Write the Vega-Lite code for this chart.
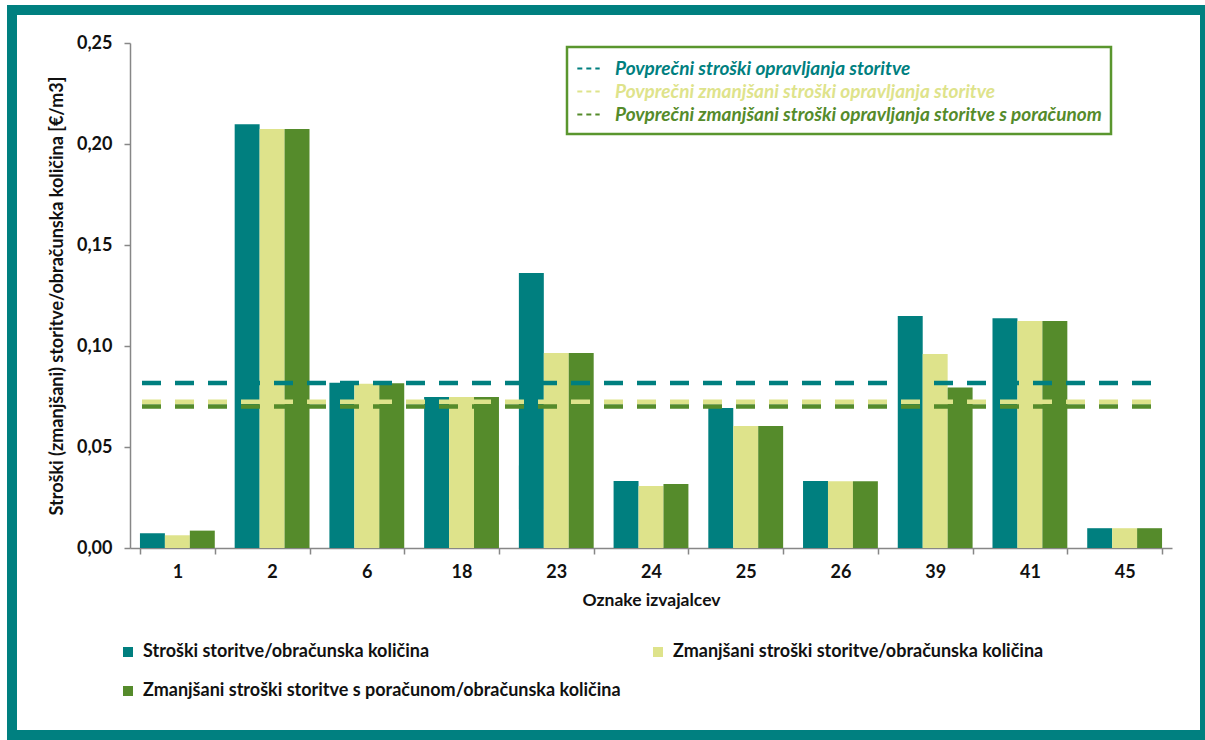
{
  "$schema": "https://vega.github.io/schema/vega-lite/v6.json",
  "width": 1193,
  "height": 725,
  "autosize": {"type": "none"},
  "padding": {"left": 12, "top": 10, "right": 0, "bottom": 5},
  "background": "white",
  "config": {
    "font": "Lato",
    "view": {"stroke": "#008080", "strokeWidth": 10, "fill": "white"},
    "axis": {"grid": false, "domainColor": "#878787", "domainWidth": 1.5, "tickColor": "#878787", "tickWidth": 1.5, "labelFont": "Lato", "labelFontWeight": "bold", "labelColor": "#111111", "titleFont": "Lato", "titleFontWeight": "bold", "titleColor": "#111111"}
  },
  "datasets": {
    "bars": [
      {"izv": "1", "serija": "Stroški storitve/obračunska količina", "v": 0.0073},
      {"izv": "1", "serija": "Zmanjšani stroški storitve/obračunska količina", "v": 0.0063},
      {"izv": "1", "serija": "Zmanjšani stroški storitve s poračunom/obračunska količina", "v": 0.0086},
      {"izv": "2", "serija": "Stroški storitve/obračunska količina", "v": 0.2098},
      {"izv": "2", "serija": "Zmanjšani stroški storitve/obračunska količina", "v": 0.2074},
      {"izv": "2", "serija": "Zmanjšani stroški storitve s poračunom/obračunska količina", "v": 0.2074},
      {"izv": "6", "serija": "Stroški storitve/obračunska količina", "v": 0.0818},
      {"izv": "6", "serija": "Zmanjšani stroški storitve/obračunska količina", "v": 0.0813},
      {"izv": "6", "serija": "Zmanjšani stroški storitve s poračunom/obračunska količina", "v": 0.0815},
      {"izv": "18", "serija": "Stroški storitve/obračunska količina", "v": 0.0748},
      {"izv": "18", "serija": "Zmanjšani stroški storitve/obračunska količina", "v": 0.0748},
      {"izv": "18", "serija": "Zmanjšani stroški storitve s poračunom/obračunska količina", "v": 0.0748},
      {"izv": "23", "serija": "Stroški storitve/obračunska količina", "v": 0.1361},
      {"izv": "23", "serija": "Zmanjšani stroški storitve/obračunska količina", "v": 0.0965},
      {"izv": "23", "serija": "Zmanjšani stroški storitve s poračunom/obračunska količina", "v": 0.0965},
      {"izv": "24", "serija": "Stroški storitve/obračunska količina", "v": 0.0332},
      {"izv": "24", "serija": "Zmanjšani stroški storitve/obračunska količina", "v": 0.0307},
      {"izv": "24", "serija": "Zmanjšani stroški storitve s poračunom/obračunska količina", "v": 0.0317},
      {"izv": "25", "serija": "Stroški storitve/obračunska količina", "v": 0.0693},
      {"izv": "25", "serija": "Zmanjšani stroški storitve/obračunska količina", "v": 0.0604},
      {"izv": "25", "serija": "Zmanjšani stroški storitve s poračunom/obračunska količina", "v": 0.0604},
      {"izv": "26", "serija": "Stroški storitve/obračunska količina", "v": 0.0332},
      {"izv": "26", "serija": "Zmanjšani stroški storitve/obračunska količina", "v": 0.0330},
      {"izv": "26", "serija": "Zmanjšani stroški storitve s poračunom/obračunska količina", "v": 0.0330},
      {"izv": "39", "serija": "Stroški storitve/obračunska količina", "v": 0.1149},
      {"izv": "39", "serija": "Zmanjšani stroški storitve/obračunska količina", "v": 0.0960},
      {"izv": "39", "serija": "Zmanjšani stroški storitve s poračunom/obračunska količina", "v": 0.0794},
      {"izv": "41", "serija": "Stroški storitve/obračunska količina", "v": 0.1137},
      {"izv": "41", "serija": "Zmanjšani stroški storitve/obračunska količina", "v": 0.1124},
      {"izv": "41", "serija": "Zmanjšani stroški storitve s poračunom/obračunska količina", "v": 0.1124},
      {"izv": "45", "serija": "Stroški storitve/obračunska količina", "v": 0.0098},
      {"izv": "45", "serija": "Zmanjšani stroški storitve/obračunska količina", "v": 0.0098},
      {"izv": "45", "serija": "Zmanjšani stroški storitve s poračunom/obračunska količina", "v": 0.0098}
    ],
    "lines": [
      {"linija": "Povprečni zmanjšani stroški opravljanja storitve s poračunom", "v": 0.0700},
      {"linija": "Povprečni zmanjšani stroški opravljanja storitve", "v": 0.0724},
      {"linija": "Povprečni stroški opravljanja storitve", "v": 0.0817}
    ]
  },
  "layer": [
    {
      "data": {"name": "bars"},
      "mark": {"type": "bar"},
      "encoding": {
        "x": {
          "field": "izv", "type": "nominal",
          "sort": ["1", "2", "6", "18", "23", "24", "25", "26", "39", "41", "45"],
          "scale": {"range": [118, 1160], "paddingInner": 0.21, "paddingOuter": 0.105},
          "axis": {"orient": "bottom", "offset": -187, "tickBand": "extent", "labelAngle": 0, "labelFontSize": 18, "labelPadding": 9, "tickSize": 6, "title": "Oznake izvajalcev", "titleFontSize": 17.5, "titlePadding": 10}
        },
        "xOffset": {
          "field": "serija", "type": "nominal",
          "sort": ["Stroški storitve/obračunska količina", "Zmanjšani stroški storitve/obračunska količina", "Zmanjšani stroški storitve s poračunom/obračunska količina"]
        },
        "y": {
          "field": "v", "type": "quantitative",
          "scale": {"domain": [0, 0.25], "range": [538, 33], "nice": false},
          "axis": {"orient": "left", "offset": -118, "values": [0, 0.05, 0.1, 0.15, 0.2, 0.25], "labelExpr": "replace(format(datum.value, '.2f'), '.', ',')", "labelFontSize": 18, "labelPadding": 12, "tickSize": 6, "title": "Stroški (zmanjšani) storitve/obračunska količina [€/m3]", "titleFontSize": 18, "titlePadding": 10}
        },
        "color": {
          "field": "serija", "type": "nominal",
          "scale": {
            "domain": ["Stroški storitve/obračunska količina", "Zmanjšani stroški storitve s poračunom/obračunska količina", "Zmanjšani stroški storitve/obračunska količina"],
            "range": ["#007f7f", "#558b2b", "#dee38b"]
          },
          "legend": {"orient": "none", "legendX": 107, "legendY": 633, "title": null, "columns": 2, "symbolType": "square", "symbolSize": 100, "labelFont": "Lato", "labelFontSize": 18, "labelFontWeight": "bold", "labelColor": "#111111", "labelLimit": 0, "labelOffset": 6, "columnPadding": 28, "rowPadding": 21, "padding": 0}
        }
      }
    },
    {
      "data": {"name": "lines"},
      "mark": {"type": "rule", "strokeWidth": 4.5, "strokeDash": [19, 14]},
      "encoding": {
        "y": {"field": "v", "type": "quantitative"},
        "x": {"datum": 0, "type": "quantitative", "scale": {"domain": [0, 1], "range": [130, 1153]}, "axis": null},
        "x2": {"datum": 1},
        "stroke": {
          "field": "linija", "type": "nominal",
          "scale": {
            "domain": ["Povprečni stroški opravljanja storitve", "Povprečni zmanjšani stroški opravljanja storitve", "Povprečni zmanjšani stroški opravljanja storitve s poračunom"],
            "range": ["#007f7f", "#dee38b", "#558b2b"]
          },
          "legend": {
            "orient": "none", "legendX": 555, "legendY": 37, "title": null,
            "symbolType": "stroke", "symbolSize": 500, "symbolStrokeWidth": 2, "symbolDash": [5, 4],
            "labelFont": "Lato", "labelFontSize": 19, "labelFontStyle": "italic", "labelFontWeight": "bold", "labelLimit": 0, "labelOffset": 14,
            "strokeColor": "#5a962e", "padding": 9, "rowPadding": 0,
            "encode": {
              "labels": {"update": {"fill": {"scale": "stroke", "field": "value"}}},
              "legend": {"update": {"strokeWidth": {"value": 2.5}}}
            }
          }
        }
      }
    }
  ],
  "resolve": {"scale": {"x": "independent"}}
}
